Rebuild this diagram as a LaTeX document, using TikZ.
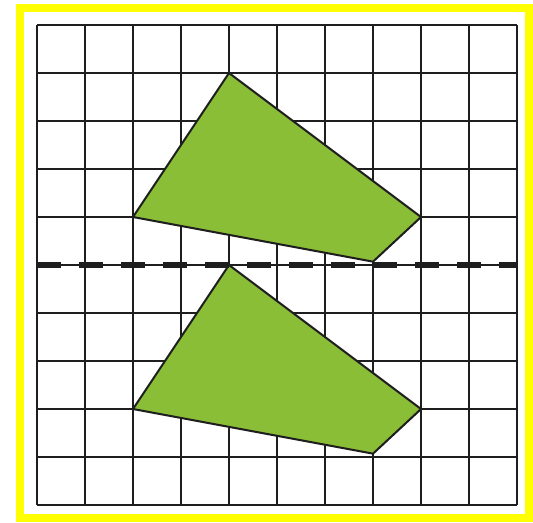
\documentclass[tikz,border=0pt]{standalone}
\usepackage{tikz}
\definecolor{leafgreen}{RGB}{139,190,55}
\definecolor{frameyellow}{RGB}{255,255,0}
\definecolor{inkgrey}{RGB}{30,30,30}

\begin{document}
\begin{tikzpicture}
	\tikzset{gridline/.style={line width=1.2pt, draw=inkgrey},
		shapefill/.style={fill=leafgreen, draw=inkgrey, line width=1.2pt, line join=miter},
		mirrorline/.style={line width=4pt, draw=inkgrey, dash pattern=on 0.5cm off 0.375cm}}
	\useasboundingbox (-0.771,0.521) rectangle (10.333,-10.354);
	\draw[frameyellow, line width=4.7pt] (-0.354,0.354) rectangle (10.25,-10.27);
	\draw[gridline] (0,0) grid (10,-10);

	\coordinate (a) at (4,-1);
	\coordinate (b) at (8,-4);
	\coordinate (c) at (7,-4.93);
	\coordinate (d) at (2,-4);
	\coordinate (a') at (4,-5);
	\coordinate (b') at (8,-8);
	\coordinate (c') at (7,-8.93);
	\coordinate (d') at (2,-8);

	\draw[shapefill] (a) -- (b) -- (c) -- (d) -- cycle;
	\draw[shapefill] (a') -- (b') -- (c') -- (d') -- cycle;

	\coordinate (l) at (0,-5);
	\coordinate (r) at (10,-5);
	\draw[mirrorline] (l) -- (r);
\end{tikzpicture}
\end{document}
